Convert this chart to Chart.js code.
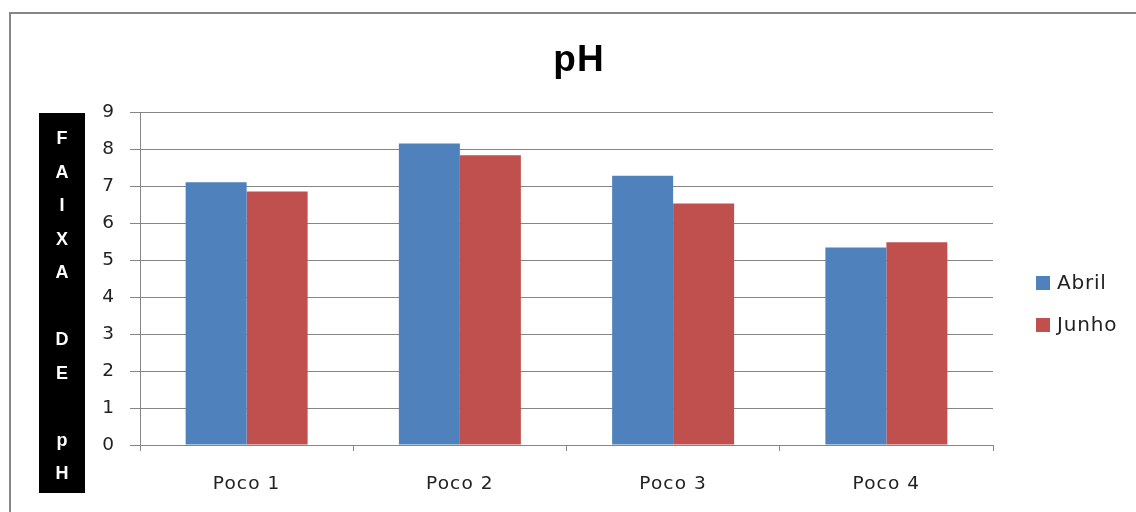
<!DOCTYPE html>
<html>
<head>
<meta charset="utf-8">
<script src="https://cdn.jsdelivr.net/npm/chart.js@4/dist/chart.umd.min.js"></script>
<style>
html,body{margin:0;padding:0;background:#fff;}
canvas{display:block;}
</style>
</head>
<body>
<canvas id="c" width="1136" height="512"></canvas>
<script>
const categories = ["Poco 1", "Poco 2", "Poco 3", "Poco 4"];
const abril = [7.1, 8.15, 7.28, 5.34];
const junho = [6.85, 7.83, 6.53, 5.48];
const seriesNames = ["Abril", "Junho"];
const yTicks = [0, 1, 2, 3, 4, 5, 6, 7, 8, 9];
const titleText = "pH";
const yLabelLetters = ["F", "A", "I", "X", "A", "", "D", "E", "", "p", "H"];

const FONT = "'DejaVu Sans', 'Noto Sans', sans-serif";
const colors = ["#4F81BD", "#C0504D"];

const decor = {
  id: 'decor',
  beforeDraw(chart) {
    const ctx = chart.ctx;
    ctx.save();
    ctx.fillStyle = '#fff';
    ctx.fillRect(0, 0, chart.width, chart.height);
    ctx.strokeStyle = '#868686';
    ctx.lineWidth = 2;
    ctx.strokeRect(10, 13, chart.width + 20, chart.height + 20);
    ctx.restore();
    ctx.letterSpacing = '1.1px';
  },
  afterDraw(chart) {
    const ctx = chart.ctx;
    ctx.save();
    // title
    ctx.letterSpacing = '1px';
    ctx.fillStyle = '#000';
    ctx.font = "bold 37px 'Liberation Sans', Arial, sans-serif";
    ctx.textAlign = 'center';
    ctx.textBaseline = 'alphabetic';
    ctx.fillText(titleText, 579, 71);
    // y label box
    ctx.letterSpacing = '0px';
    ctx.fillStyle = '#000';
    ctx.fillRect(39, 113, 46, 380);
    ctx.fillStyle = '#fff';
    ctx.textBaseline = 'middle';
    ctx.font = "bold 18px 'Liberation Sans', Arial, sans-serif";
    yLabelLetters.forEach((l, i) => {
      if (l) ctx.fillText(l, 62, 139.5 + i * 33.5);
    });
    // legend
    ctx.textAlign = 'left';
    ctx.letterSpacing = '0.8px';
    ctx.font = "20px " + FONT;
    chart.data.datasets.forEach((ds, i) => {
      const cy = 283 + i * 42;
      ctx.fillStyle = ds.backgroundColor;
      ctx.fillRect(1036, cy - 7, 14, 14);
      ctx.fillStyle = '#222';
      ctx.fillText(ds.label, 1057, cy + 1);
    });
    ctx.restore();
  }
};

new Chart(document.getElementById('c'), {
  type: 'bar',
  data: {
    labels: categories,
    datasets: [
      { label: seriesNames[0], data: abril, backgroundColor: colors[0] },
      { label: seriesNames[1], data: junho, backgroundColor: colors[1] }
    ]
  },
  options: {
    responsive: false,
    animation: false,
    layout: { padding: { left: 100, right: 143, top: 112, bottom: 0 } },
    datasets: { bar: { categoryPercentage: 0.572, barPercentage: 1.0 } },
    plugins: {
      legend: { display: false },
      title: { display: false },
      tooltip: { enabled: false }
    },
    scales: {
      x: {
        afterFit(s) { s.height = 67; },
        grid: { offset: true, drawOnChartArea: false, drawTicks: true, tickLength: 6, color: '#868686' },
        border: { display: true, color: '#868686' },
        ticks: { padding: 22, color: '#222', font: { family: FONT, size: 18.5 } }
      },
      y: {
        min: 0, max: 9,
        afterFit(s) { s.width = 40; },
        afterBuildTicks(s) { s.ticks = yTicks.map(v => ({ value: v })); },
        grid: { color: '#868686', tickLength: 10, drawTicks: true },
        border: { display: true, color: '#868686' },
        ticks: { stepSize: 1, padding: 15, color: '#222', font: { family: FONT, size: 18.5 } }
      }
    }
  },
  plugins: [decor]
});
</script>
</body>
</html>
